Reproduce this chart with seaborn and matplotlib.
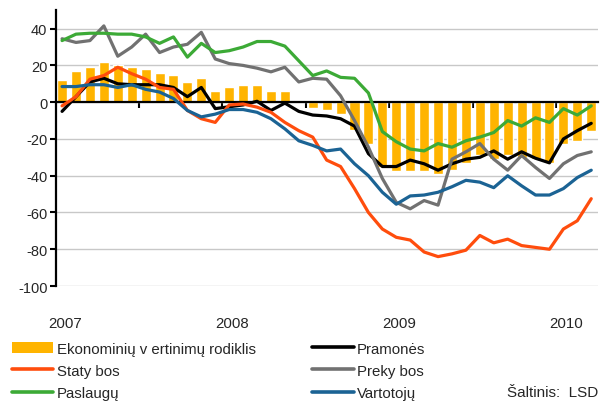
import numpy as np
import pandas as pd
import seaborn as sns
import matplotlib.pyplot as plt
import matplotlib.transforms as mtransforms
from matplotlib.patches import Patch
from matplotlib.lines import Line2D

# monthly data, 2007-01 .. 2010-03
months = pd.period_range("2007-01", "2010-03", freq="M").astype(str)
year_labels = ["2007", "2008", "2009", "2010"]
year_pos = [0, 12, 24, 36]

ekonominiu = [12, 17, 19, 22, 20, 19, 18, 16, 15, 11, 13, 6, 8, 9.5, 9.5, 6, 6, 1,
              -3, -4, -6.5, -15, -23, -35, -37.5, -37.5, -37.5, -39, -37,
              -33, -29, -31, -29, -30.5, -31, -33, -23, -21, -15.5]
pramones = [-5, 3, 11, 13, 10, 9.5, 9.5, 9.5, 8, 3, 8, -3.5, -2.5, -1.5, 0.5, -4.5, -0.5, -5,
            -7, -7.5, -9, -13, -28, -35, -35, -31.5, -33.5, -37, -33.5,
            -31, -30, -26.5, -31, -27, -30.5, -33, -20, -15.5, -11.5]
statybos = [-2, 3, 12.5, 14.5, 19, 15.5, 12.5, 8, 7, -4.5, -9, -11, -1.5, -1, -2.7, -5.5, -11, -15.5,
            -19, -31.5, -35, -47, -60, -69, -73.5, -75, -81.5, -84, -82.5,
            -80.5, -72.5, -76.5, -74.5, -78, -79, -80, -69, -64.5, -52.5]
prekybos = [34.5, 32.5, 33.5, 41.5, 25, 30, 37, 27, 30, 31.5, 38, 23.5, 21, 20, 18.5, 16.5, 19, 11,
            13, 12.5, 3.5, -10, -24.5, -41.5, -54.5, -58, -53.5, -56, -31,
            -27, -22.5, -31, -37, -29, -35.5, -41.5, -33.5, -29, -27]
paslaugu = [33.5, 37, 37.5, 37.5, 37, 37, 35.5, 32, 35.5, 24.5, 32, 27, 28, 30, 33, 33, 30.5, 22.5,
            14.5, 17, 13.5, 13, 5, -16, -21.5, -25.5, -26.5, -22.5, -24.5,
            -21, -19, -16.5, -10, -13, -8.5, -11, -3.5, -7, -2]
vartotoju = [8.5, 8.5, 9.5, 9.5, 8, 9.5, 7, 5.5, 2, -4.5, -8, -6.5, -4, -4, -5.5, -9, -14.5, -21,
             -23.5, -26.5, -25.5, -33.5, -40, -49, -55.5, -51, -50.5, -49, -46,
             -42.5, -43.5, -46.5, -40, -45.5, -50.5, -50.5, -47, -41, -37]

bar_name = "Ekonominių v ertinimų rodiklis"
line_names = ["Pramonės", "Staty bos", "Preky bos", "Paslaugų", "Vartotojų"]
line_values = [pramones, statybos, prekybos, paslaugu, vartotoju]
colors = {"Pramonės": "#000000", "Staty bos": "#FF4D0D", "Preky bos": "#717171",
          "Paslaugų": "#3CAA36", "Vartotojų": "#1B6394"}
bar_color = "#FFB400"

k = np.arange(len(months))
bars = pd.DataFrame({"k": k, "value": ekonominiu})
lines = pd.concat([pd.DataFrame({"k": k, "value": v, "series": n})
                   for n, v in zip(line_names, line_values)], ignore_index=True)

sns.set_theme(style="white")
plt.rcParams["font.family"] = ["Liberation Sans", "DejaVu Sans"]
plt.rcParams["axes.unicode_minus"] = False

fig = plt.figure(figsize=(6, 4.02), dpi=100)
ax = fig.add_axes([0.093, 0.286, 0.904, 0.686])

sns.barplot(data=bars, x="k", y="value", native_scale=True, color=bar_color,
            saturation=1, width=0.72, ax=ax, zorder=1)
sns.lineplot(data=lines, x="k", y="value", hue="series", hue_order=line_names,
             palette=colors, linewidth=2.3, legend=False, ax=ax, zorder=3)

ax.set_xlim(-0.45, 38.5)
ax.set_ylim(-100, 50)
ax.set_yticks(range(-100, 41, 20))
ax.yaxis.grid(True, color="#c8c8c8", lw=1.0)
ax.set_axisbelow(True)
ax.set_xlabel("")
ax.set_ylabel("")

for s in ["top", "right"]:
    ax.spines[s].set_visible(False)
ax.spines["left"].set_color("black")
ax.spines["left"].set_linewidth(1.6)
ax.spines["bottom"].set_position(("data", 0))
ax.spines["bottom"].set_color("black")
ax.spines["bottom"].set_linewidth(1.6)
ax.spines["bottom"].set_zorder(2)

ax.set_xticks(np.arange(5.5, 38, 6))
ax.tick_params(axis="x", direction="out", length=4, width=1.5, color="black",
               labelbottom=False, bottom=True)
ax.tick_params(axis="y", direction="out", length=4, width=1.5, color="black",
               left=True, labelsize=10.5, pad=2)

trans = mtransforms.blended_transform_factory(ax.transData, ax.transAxes)
for pos, lab in zip(year_pos, year_labels):
    ax.text(pos + 0.2, -0.135, lab, transform=trans, ha="center", va="center", fontsize=10.8)

handles = {bar_name: Patch(facecolor=bar_color, edgecolor="none")}
for n in line_names:
    handles[n] = Line2D([], [], color=colors[n], lw=2.6)
order = [bar_name, "Staty bos", "Paslaugų", "Pramonės", "Preky bos", "Vartotojų"]
fig.legend([handles[o] for o in order], order, ncol=2, loc="upper left",
           bbox_to_anchor=(0.02, 0.148), frameon=False, fontsize=10.8,
           handlelength=2.75, handleheight=0.75, handletextpad=0.25,
           labelspacing=0.55, columnspacing=3.75, borderaxespad=0, borderpad=0)

fig.text(0.997, 1 - 393 / 402, "Šaltinis:  LSD", ha="right", va="center", fontsize=11)

fig.savefig("out.png", dpi=100)
